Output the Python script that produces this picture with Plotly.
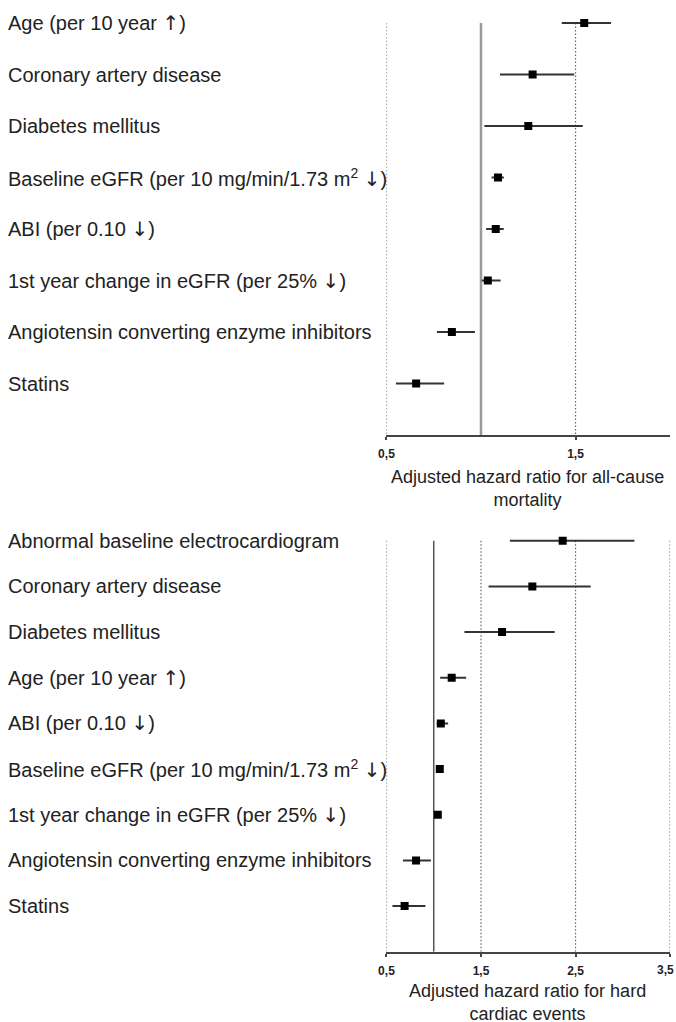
import plotly.graph_objects as go

UP = "<span style='font-family:DejaVu Sans'>\u2191</span>"
DN = "<span style='font-family:DejaVu Sans'>\u2193</span>"

# ---- Data: all-cause mortality (top) ----
top_labels = [
    "Age (per 10 year " + UP + ")",
    "Coronary artery disease",
    "Diabetes mellitus",
    "Baseline eGFR (per 10 mg/min/1.73 m<sup>2</sup> " + DN + ")",
    "ABI (per 0.10 " + DN + ")",
    "1st year change in eGFR (per 25% " + DN + ")",
    "Angiotensin converting enzyme inhibitors",
    "Statins",
]
top_hr = [1.546, 1.273, 1.25, 1.09, 1.078, 1.036, 0.846, 0.657]
top_lo = [1.427, 1.10, 1.018, 1.056, 1.027, 1.004, 0.767, 0.55]
top_hi = [1.688, 1.493, 1.538, 1.121, 1.12, 1.104, 0.968, 0.805]
top_ticks = [0.5, 1.5]
top_ticktext = ["0,5", "1,5"]

# ---- Data: hard cardiac events (bottom) ----
bot_labels = [
    "Abnormal baseline electrocardiogram",
    "Coronary artery disease",
    "Diabetes mellitus",
    "Age (per 10 year " + UP + ")",
    "ABI (per 0.10 " + DN + ")",
    "Baseline eGFR (per 10 mg/min/1.73 m<sup>2</sup> " + DN + ")",
    "1st year change in eGFR (per 25% " + DN + ")",
    "Angiotensin converting enzyme inhibitors",
    "Statins",
]
bot_hr = [2.364, 2.043, 1.723, 1.19, 1.075, 1.064, 1.043, 0.813, 0.692]
bot_lo = [1.806, 1.58, 1.325, 1.068, 1.03, 1.04, 1.02, 0.674, 0.563]
bot_hi = [3.123, 2.66, 2.28, 1.343, 1.152, 1.09, 1.07, 0.97, 0.912]
bot_ticks = [0.5, 1.5, 2.5, 3.5]
bot_ticktext = ["0,5", "1,5", "2,5", "3,5"]

W, H = 676, 1022
FONT = "Liberation Sans, Arial, sans-serif"
TXT = "#222222"

fig = go.Figure()

def add_panel(labels, hr, lo, hi, xa, ya):
    n = len(labels)
    ypos = list(range(n))
    fig.add_trace(go.Scatter(
        x=hr, y=ypos, mode="markers",
        marker=dict(symbol="square", size=8, color="black"),
        error_x=dict(type="data", symmetric=False,
                     array=[h - m for h, m in zip(hi, hr)],
                     arrayminus=[m - l for m, l in zip(hr, lo)],
                     color="#333333", thickness=2, width=0),
        xaxis=xa, yaxis=ya, showlegend=False, hoverinfo="skip"))
    for i, lab in enumerate(labels):
        fig.add_annotation(text=lab, x=-2 / W, xref="paper", xanchor="left",
                           y=i, yref=ya, showarrow=False,
                           font=dict(family=FONT, size=20, color=TXT))
    return n

n_top = add_panel(top_labels, top_hr, top_lo, top_hi, "x", "y")
n_bot = add_panel(bot_labels, bot_hr, bot_lo, bot_hi, "x2", "y2")

DOT = "1.5px,2px"
# reference lines
for v in top_ticks:
    fig.add_shape(type="line", x0=v, x1=v, y0=0, y1=n_top, xref="x", yref="y",
                  line=dict(color="#666666", width=1.2, dash=DOT), layer="below")
fig.add_shape(type="line", x0=1, x1=1, y0=0, y1=n_top, xref="x", yref="y",
              line=dict(color="#9a9a9a", width=2.5), layer="below")
for v in bot_ticks:
    fig.add_shape(type="line", x0=v, x1=v, y0=0, y1=n_bot, xref="x2", yref="y2",
                  line=dict(color="#666666", width=1.2, dash=DOT), layer="below")
fig.add_shape(type="line", x0=1, x1=1, y0=0, y1=n_bot, xref="x2", yref="y2",
              line=dict(color="#555555", width=1.5), layer="below")

xdom = [383 / W, 670 / W]
top_dom = [1 - 435 / H, 1 - 2.4 / H]
bot_dom = [1 - 951.7 / H, 1 - 522.5 / H]

TICKFONT = dict(family=FONT, size=12, color=TXT, weight="bold")
axis_common = dict(showline=True, linecolor="#444444", linewidth=2,
                   ticks="outside", ticklen=3, tickwidth=2, tickcolor="#444444",
                   showgrid=False, zeroline=False, ticklabelstandoff=4,
                   tickfont=TICKFONT)

fig.update_layout(
    width=W, height=H, margin=dict(l=0, r=0, t=0, b=0),
    paper_bgcolor="white", plot_bgcolor="white",
    xaxis=dict(domain=xdom, range=[0.5, 2.0], anchor="y",
               tickvals=top_ticks, ticktext=top_ticktext, **axis_common),
    yaxis=dict(domain=top_dom, range=[n_top, -0.4], visible=False, anchor="x"),
    xaxis2=dict(domain=xdom, range=[0.5, 3.5], anchor="y2",
                tickvals=bot_ticks, ticktext=bot_ticktext, **axis_common),
    yaxis2=dict(domain=bot_dom, range=[n_bot, -0.4], visible=False, anchor="x2"),
)

# last tick label sits at the right edge; plotly hides it, so draw it kept inside the page
fig.add_annotation(text=bot_ticktext[-1], x=1, xref="paper", xanchor="right",
                   y=1 - 969.5 / H, yref="paper", yanchor="middle", showarrow=False,
                   font=TICKFONT)

# axis titles
fig.add_annotation(text="Adjusted hazard ratio for all-cause<br>mortality",
                   x=526 / W, y=1 - 465 / H, xref="paper", yref="paper",
                   xanchor="center", yanchor="top", showarrow=False,
                   font=dict(family=FONT, size=18, color=TXT))
fig.add_annotation(text="Adjusted hazard ratio for hard<br>cardiac events",
                   x=526 / W, y=1 - 979 / H, xref="paper", yref="paper",
                   xanchor="center", yanchor="top", showarrow=False,
                   font=dict(family=FONT, size=18, color=TXT))

fig.write_html(
    "out.html", config={"displayModeBar": False},
    post_script="document.body.style.margin='0';document.body.style.overflow='hidden';",
)
